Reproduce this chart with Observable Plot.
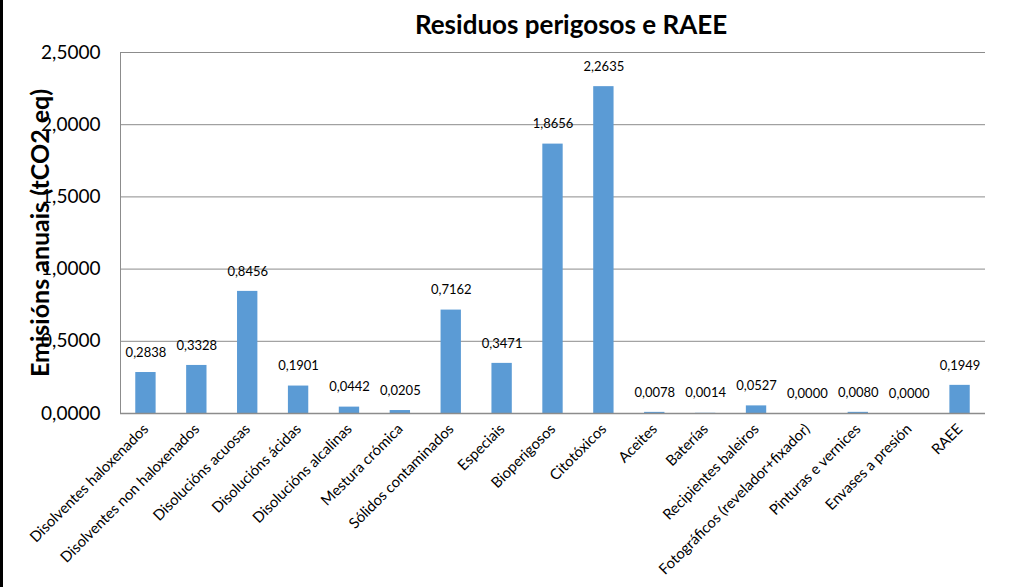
<!DOCTYPE html>
<html>
<head>
<meta charset="utf-8">
<script src="https://cdn.jsdelivr.net/npm/d3@7"></script>
<script src="https://cdn.jsdelivr.net/npm/@observablehq/plot@0.6"></script>
<style>
  html, body { margin: 0; padding: 0; background: white; }
  #wrap { position: relative; width: 1013px; height: 587px; }
  #border { position: absolute; left: 0; top: 0; width: 1010px; height: 587px;
    border-left: 3px solid black; pointer-events: none; }
</style>
</head>
<body>
<div id="wrap"><div id="border"></div></div>
<script>
const categories = [
  "Disolventes haloxenados",
  "Disolventes non haloxenados",
  "Disolucións acuosas",
  "Disolucións ácidas",
  "Disolucións alcalinas",
  "Mestura crómica",
  "Sólidos contaminados",
  "Especiais",
  "Bioperigosos",
  "Citotóxicos",
  "Aceites",
  "Baterías",
  "Recipientes baleiros",
  "Fotográficos (revelador+fixador)",
  "Pinturas e vernices",
  "Envases a presión",
  "RAEE"
];
const values = [0.2838, 0.3328, 0.8456, 0.1901, 0.0442, 0.0205, 0.7162, 0.3471, 1.8656, 2.2635,
  0.0078, 0.0014, 0.0527, 0.0000, 0.0080, 0.0000, 0.1949];
const yTicks = [0, 0.5, 1.0, 1.5, 2.0, 2.5];
const titleText = "Residuos perigosos e RAEE";
const yLabel = "Emisións anuais (tCO2 eq)";

const data = categories.map((c, i) => ({cat: c, value: values[i]}));
const fmt = v => d3.format(".4f")(v).replace(".", ",");

const chart = Plot.plot({
  width: 1013,
  height: 587,
  marginLeft: 120,
  marginRight: 28,
  marginTop: 52,
  marginBottom: 174,
  style: {fontFamily: "Lato, 'Open Sans', sans-serif", background: "white", color: "black"},
  x: {domain: categories, paddingInner: 0.6, paddingOuter: 0.3, round: false, label: null},
  y: {domain: [0, 2.5], label: null},
  marks: [
    Plot.gridY(yTicks, {stroke: "#8c8c8c", strokeOpacity: 1}),
    Plot.frame({anchor: "left", stroke: "#8c8c8c"}),
    Plot.barY(data, {x: "cat", y: "value", fill: "#5B9BD5"}),
    Plot.ruleY([0], {stroke: "#8c8c8c", strokeWidth: 1.5}),
    Plot.text(data, {x: "cat", y: "value", text: d => fmt(d.value), dy: -20, fontSize: 13, fill: "black"}),
    Plot.axisY({ticks: yTicks, tickSize: 0, tickPadding: 20, fontSize: 19, tickFormat: fmt, label: null}),
    Plot.axisX({tickSize: 0, tickPadding: 13, tickRotate: -45, fontSize: 14.8, label: null}),
    Plot.text([titleText], {frameAnchor: "top", lineAnchor: "middle", dy: -27, dx: 18, fontSize: 26, fontWeight: "bold", fill: "black"}),
    Plot.text([yLabel], {frameAnchor: "left", textAnchor: "middle", dx: -80, rotate: -90, fontSize: 25, fontWeight: "bold", fill: "black"})
  ]
});
document.getElementById("wrap").prepend(chart);
</script>
</body>
</html>
